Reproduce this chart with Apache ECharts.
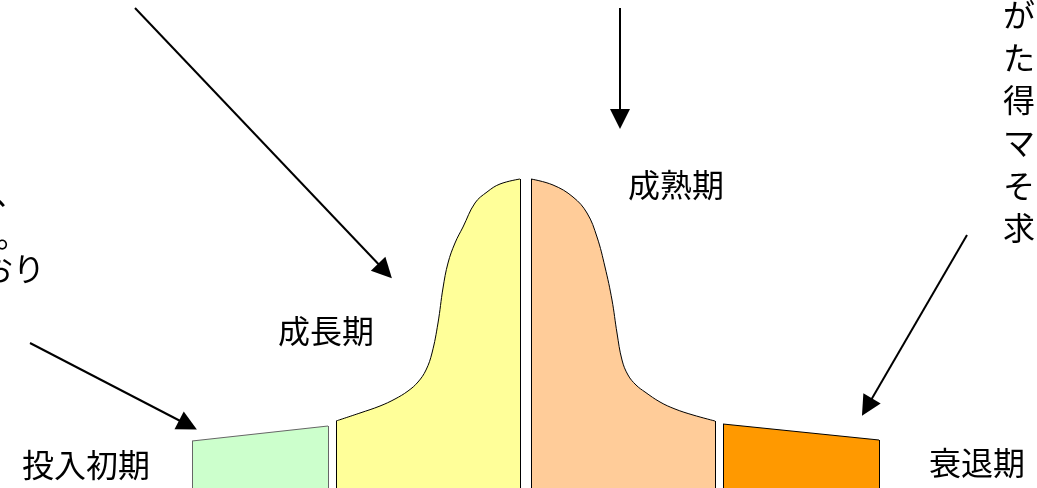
<!DOCTYPE html>
<html>
<head>
<meta charset="utf-8">
<title>製品ライフサイクル</title>
<script src="https://cdn.jsdelivr.net/npm/echarts@6/dist/echarts.min.js"></script>
<style>
  html, body { margin: 0; padding: 0; background: #ffffff; }
  #chart { width: 1037px; height: 488px; }
</style>
</head>
<body>
<div id="chart"></div>
<script>
// Stage names of the product life cycle
const stageNames = ['投入初期', '成長期', '成熟期', '衰退期'];

// Outline of each stage: [time position, sales level]
const introOutline = [[192, 47], [328, 62]];
const growthOutline = [
  [336, 67], [360, 75], [380, 82], [395, 89], [408, 97], [418, 106],
  [426, 118], [432, 135], [438, 165], [443, 200], [448, 225], [455, 245],
  [463, 261], [475, 285], [487, 296], [500, 304], [520, 309]
];
const maturityOutline = [
  [531, 309], [553, 303], [573, 291], [587, 275], [597, 251], [605, 221],
  [612, 188], [617, 155], [622, 128], [628, 113], [636, 103], [645, 96],
  [660, 86], [675, 79], [693, 73], [715, 67]
];
const declineOutline = [[723, 64], [879, 48]];

// Pointer arrows: [from, to]
const arrows = [
  [[135, 480], [385, 217]],
  [[620, 480], [620, 369]],
  [[967, 253], [867, 81]],
  [[30, 145], [188, 63]]
];

// Text fragments of the side notes
const leftNoteLines = ['、', '。', 'おり'];
const rightNoteLines = ['が', 'た', '得', 'マ', 'そ', '求'];

const FONT = '"Noto Sans CJK JP", "Noto Sans CJK SC", sans-serif';

function stageSeries(outline, fill, stroke, smooth) {
  const first = outline[0];
  const last = outline[outline.length - 1];
  return {
    type: 'line',
    data: outline,
    smooth: smooth ? 0.4 : false,
    showSymbol: false,
    silent: true,
    lineStyle: { color: stroke, width: 1 },
    areaStyle: { color: fill, opacity: 1 },
    markLine: {
      silent: true,
      symbol: 'none',
      label: { show: false },
      lineStyle: { color: stroke, width: 1, type: 'solid' },
      data: [
        [{ coord: [first[0], 0] }, { coord: first }],
        [{ coord: last }, { coord: [last[0], 0] }]
      ]
    }
  };
}

const chart = echarts.init(document.getElementById('chart'), null, { renderer: 'canvas' });

const graphics = [];
const stageLabelPos = [[86, 465], [326, 331], [676, 185], [977, 463]];
stageNames.forEach(function (name, i) {
  graphics.push({
    type: 'text',
    x: stageLabelPos[i][0],
    y: stageLabelPos[i][1],
    style: {
      text: name,
      font: '32px ' + FONT,
      fill: '#000000',
      align: 'center',
      verticalAlign: 'middle'
    }
  });
});

const leftNotePos = [[-6, 193], [-4, 235], [-19, 269]];
leftNoteLines.forEach(function (t, i) {
  graphics.push({
    type: 'text',
    x: leftNotePos[i][0],
    y: leftNotePos[i][1],
    style: {
      text: t,
      font: '32px ' + FONT,
      fill: '#000000',
      align: 'left',
      verticalAlign: 'middle'
    }
  });
});

rightNoteLines.forEach(function (t, i) {
  graphics.push({
    type: 'text',
    x: 1003,
    y: 15 + i * 42.6,
    style: {
      text: t,
      font: '32px ' + FONT,
      fill: '#000000',
      align: 'left',
      verticalAlign: 'middle'
    }
  });
});

chart.setOption({
  animation: false,
  backgroundColor: '#ffffff',
  grid: { left: 0, right: 0, top: 0, bottom: 0 },
  xAxis: { type: 'value', min: 0, max: 1037, show: false },
  yAxis: { type: 'value', min: 0, max: 488, show: false },
  series: [
    stageSeries(introOutline, '#CCFFCC', '#666666', false),
    stageSeries(growthOutline, '#FFFF99', '#000000', true),
    stageSeries(maturityOutline, '#FFCC99', '#000000', true),
    stageSeries(declineOutline, '#FF9900', '#000000', false),
    {
      type: 'line',
      data: [],
      silent: true,
      markLine: {
        silent: true,
        symbol: ['none', 'triangle'],
        symbolSize: 20,
        label: { show: false },
        lineStyle: { color: '#000000', width: 2, type: 'solid' },
        itemStyle: { color: '#000000' },
        data: arrows.map(function (a) {
          return [{ coord: a[0] }, { coord: a[1] }];
        })
      }
    }
  ],
  graphic: graphics
});
</script>
</body>
</html>
